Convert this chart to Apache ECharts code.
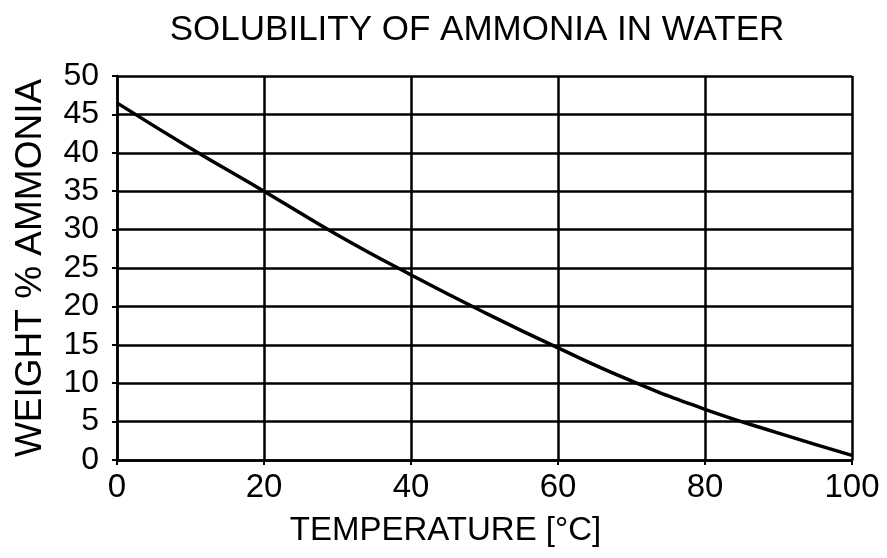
<!DOCTYPE html>
<html>
<head>
<meta charset="utf-8">
<script src="https://cdn.jsdelivr.net/npm/echarts@6/dist/echarts.min.js"></script>
<style>
  html, body { margin: 0; padding: 0; background: #fff; }
  #main { width: 887px; height: 558px; }
</style>
</head>
<body>
<div id="main"></div>
<script>
// 温度 (°C) 和 氨的重量百分比
var temperature = [0, 10, 20, 30, 40, 50, 60, 70, 80, 90, 100];
var weightPct = [46.5, 40.6, 35, 29.3, 24.1, 19.2, 14.6, 10.3, 6.6, 3.5, 0.6];

var font = "'Liberation Sans', Arial, sans-serif";

var myChart = echarts.init(document.getElementById('main'));
myChart.setOption({
    animation: false,
    title: {
        text: 'SOLUBILITY OF AMMONIA IN WATER',
        left: 472,
        textAlign: 'center',
        top: 8,
        textStyle: { fontFamily: font, fontSize: 35, fontWeight: 'normal', color: '#000' }
    },
    grid: { left: 117, right: 35, top: 76, bottom: 98, outerBoundsMode: 'none' },
    xAxis: {
        type: 'value',
        min: 0,
        max: 100,
        interval: 20,
        name: 'TEMPERATURE [°C]',
        nameLocation: 'middle',
        nameGap: 54,
        nameTextStyle: { fontFamily: font, fontSize: 33, color: '#000', padding: [0, 78, 0, 0] },
        axisLine: { show: true, lineStyle: { color: '#000', width: 2.5 } },
        axisTick: { show: true, inside: false, length: 5, lineStyle: { color: '#000', width: 2 } },
        axisLabel: { fontFamily: font, fontSize: 33, color: '#000', margin: 11 },
        splitLine: { show: true, lineStyle: { color: '#000', width: 2.5 } }
    },
    yAxis: {
        type: 'value',
        min: 0,
        max: 50,
        interval: 5,
        name: 'WEIGHT % AMMONIA',
        nameLocation: 'middle',
        nameGap: 68,
        nameTextStyle: { fontFamily: font, fontSize: 37, color: '#000' },
        axisLine: { show: true, lineStyle: { color: '#000', width: 2.5 } },
        axisTick: { show: true, length: 5, lineStyle: { color: '#000', width: 2 } },
        axisLabel: { fontFamily: font, fontSize: 32, color: '#000', margin: 18 },
        splitLine: { show: true, lineStyle: { color: '#000', width: 2.5 } }
    },
    series: [
        {
            type: 'line',
            smooth: true,
            symbol: 'none',
            lineStyle: { color: '#000', width: 3.5 },
            data: temperature.map(function (t, i) { return [t, weightPct[i]]; })
        }
    ]
});
</script>
</body>
</html>
